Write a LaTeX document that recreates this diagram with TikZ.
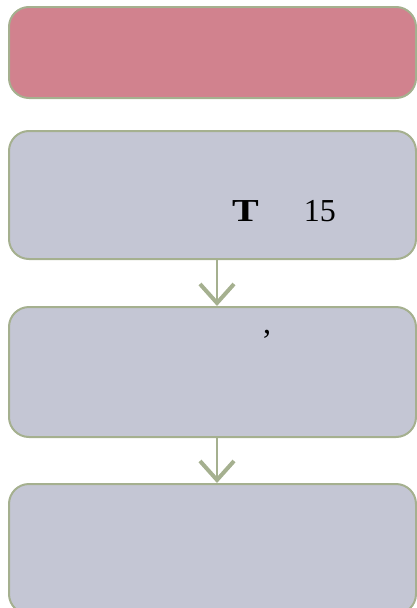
\documentclass[tikz,border=0pt]{standalone}
\usepackage{fontspec}
\setmainfont{Liberation Serif}
\usetikzlibrary{arrows.meta, positioning}
\definecolor{titlepink}{RGB}{209,130,142}
\definecolor{boxgray}{RGB}{196,198,212}
\definecolor{edgegreen}{RGB}{165,176,143}

\begin{document}
\begin{tikzpicture}[
    x=1pt, y=-1pt,
    box/.style={draw=edgegreen, line width=2pt, fill=boxgray, rounded corners=20pt, minimum width=407pt, inner sep=0pt},
    title/.style={box, fill=titlepink, minimum height=91pt},
    textnode/.style={font=\fontsize{32}{36}\selectfont, inner sep=0pt},
    arrow/.style={draw=edgegreen, line width=1.5pt, -{Straight Barb[length=19pt, width=34pt, line width=4pt]}}
]
\useasboundingbox (0,0) rectangle (417,608);

% Boxes
\node[title] (head) at (212.5,52.5) {};
\node[box, minimum height=128pt] (first) at (212.5,195) {};
\node[box, minimum height=130pt] (second) at (212.5,372) {};
\node[box, minimum height=130pt] (third) at (212.5,549) {};

% Texts
\node[textnode, anchor=base west] (mark) at (232,221) {\scalebox{1.25}[1]{\textbf{T}}\hspace{45pt}15};
\node[textnode, anchor=base] (comma) at (267,333) {,};

% Arrows
\draw[arrow] ([xshift=4.5pt]first.south) -- ([xshift=4.5pt]second.north);
\draw[arrow] ([xshift=4.5pt]second.south) -- ([xshift=4.5pt]third.north);

\end{tikzpicture}
\end{document}
